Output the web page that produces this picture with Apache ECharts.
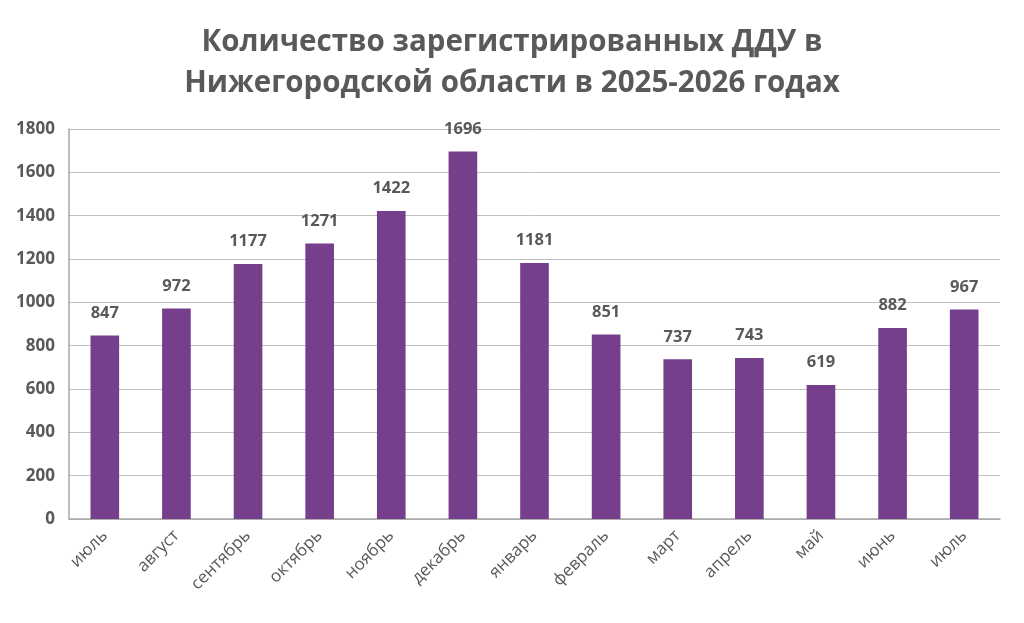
<!DOCTYPE html>
<html>
<head>
<meta charset="utf-8">
<script src="https://cdn.jsdelivr.net/npm/echarts@6/dist/echarts.min.js"></script>
<style>
    html, body {margin: 0; padding: 0; background: #fff;}
    #chart {width: 1024px; height: 623px;}
</style>
</head>
<body>
<div id="chart"></div>
<script>
// месяцы
const months = ['июль', 'август', 'сентябрь', 'октябрь', 'ноябрь', 'декабрь', 'январь',
    'февраль', 'март', 'апрель', 'май', 'июнь', 'июль'];
// количество ДДУ
const counts = [847, 972, 1177, 1271, 1422, 1696, 1181, 851, 737, 743, 619, 882, 967];

const titleText = 'Количество зарегистрированных ДДУ в\nНижегородской области в 2025-2026 годах';

const chart = echarts.init(document.getElementById('chart'));

const option = {
    animation: false,
    title: {
        text: titleText,
        left: 'center',
        top: 17,
        textStyle: {
            fontFamily: 'Open Sans',
            fontSize: 29.5,
            fontWeight: 'bold',
            color: '#595959',
            lineHeight: 41,
        },
    },
    grid: {
        left: 69,
        right: 24,
        top: 129,
        bottom: 104,
        containLabel: false,
    },
    xAxis: {
        type: 'category',
        data: months.map((m, i) => ({value: m + '#' + i})),
        axisLine: {lineStyle: {color: '#a6a6a6', width: 1.5}},
        axisTick: {show: false},
        axisLabel: {
            interval: 0,
            rotate: 45,
            margin: 14,
            fontFamily: 'Open Sans',
            fontSize: 17,
            color: '#595959',
            formatter: v => v.split('#')[0],
        },
    },
    yAxis: {
        type: 'value',
        min: 0,
        max: 1800,
        interval: 200,
        axisLine: {show: true, lineStyle: {color: '#a6a6a6', width: 1.5}},
        axisTick: {show: false},
        splitLine: {lineStyle: {color: '#bfbfbf', width: 1}},
        axisLabel: {
            margin: 14,
            fontFamily: 'Open Sans',
            fontSize: 17,
            fontWeight: 'bold',
            color: '#595959',
            formatter: v => String(v),
        },
    },
    series: [
        {
            type: 'bar',
            data: counts,
            barWidth: '40%',
            itemStyle: {color: '#763f8c'},
            label: {
                show: true,
                position: 'top',
                distance: 14,
                fontFamily: 'Open Sans',
                fontSize: 16.5,
                fontWeight: 'bold',
                color: '#595959',
            },
        },
    ],
};

chart.setOption(option);
</script>
</body>
</html>
